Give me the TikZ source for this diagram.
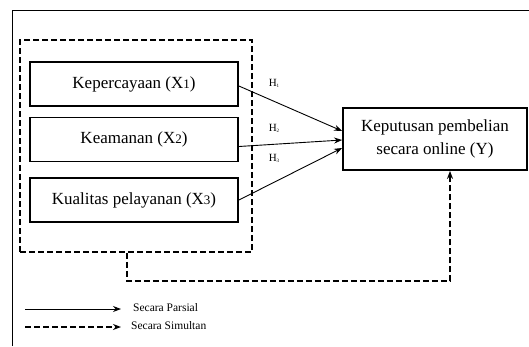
\documentclass[tikz,border=0pt]{standalone}
\usepackage{fontspec}
\setmainfont{Liberation Serif}
\usepackage{tikz}
\usetikzlibrary{arrows.meta,positioning}
\newcommand{\xsub}[1]{{\fontsize{13}{13}\selectfont #1}}
\newcommand{\hsub}[1]{\raisebox{-1pt}{\fontsize{5}{5}\selectfont #1}}

\begin{document}
\begin{tikzpicture}[x=1pt,y=-1pt,>={Stealth[length=8pt,width=6pt]},
  var/.style={draw,line width=1.8pt,minimum width=208pt,minimum height=44pt,inner sep=0pt,font=\fontsize{17}{23}\selectfont},
  hyp/.style={font=\fontsize{11}{11}\selectfont,inner sep=0pt},
  part/.style={->,line width=0.9pt},
  simul/.style={->,line width=1.5pt,dash pattern=on 6pt off 3pt},
  leg/.style={anchor=west,inner sep=0pt,font=\fontsize{11.5}{11.5}\selectfont}]
\useasboundingbox (0,0) rectangle (529,346);
\draw[line width=1.4pt] (12.5,346) |- (529,10.5);
\node[draw,line width=1.5pt,dash pattern=on 6pt off 3pt,minimum width=232pt,minimum height=212pt] (grp) at (136,146) {};
\node[var] (x1) at (134,84) {Kepercayaan (X\xsub{1})};
\node[var] (x2) at (134,139.5) {Keamanan (X\xsub{2})};
\node[var] (x3) at (134,200) {Kualitas pelayanan (X\xsub{3})};
\node[var,minimum width=184pt,minimum height=62pt,align=center] (y) at (435,139) {Keputusan pembelian\\secara online (Y)};
\node[hyp] (h1) at (274,83) {H\hsub{1}};
\node[hyp] (h2) at (274,128) {H\hsub{2}};
\node[hyp] (h3) at (274,158) {H\hsub{3}};
\draw[part] ([yshift=-2pt]x1.east) -- ([yshift=8pt]y.west);
\draw[part] ([yshift=-7pt]x2.east) -- ([yshift=-1pt]y.west);
\draw[part] (x3.east) -- ([yshift=-9pt]y.west);
\coordinate (sim) at (450,281);
\draw[simul] ([xshift=-9pt]grp.south) |- (sim) -- ([xshift=15pt]y.south);
% legend
\node[leg] (lp) at (133,308) {Secara Parsial};
\node[leg] (ls) at (131,326) {Secara Simultan};
\coordinate (lpa) at (25,309);
\coordinate (lsa) at (25,327);
\draw[part] (lpa) -- ([xshift=-12pt]lp.west |- lpa);
\draw[simul] (lsa) -- ([xshift=-10pt]ls.west |- lsa);
\end{tikzpicture}
\end{document}
